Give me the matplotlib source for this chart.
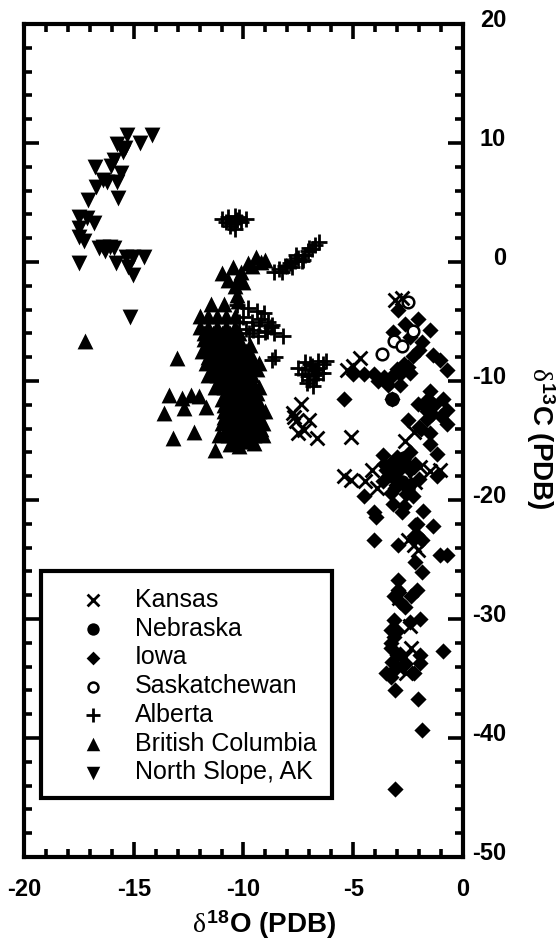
"""
d18O vs d13C cross plot, values read off the scanned figure
"""
import matplotlib
matplotlib.use("Agg")
import matplotlib.pyplot as plt
from matplotlib.patches import Rectangle
from matplotlib.transforms import ScaledTranslation

plt.rcParams["font.family"] = ["Liberation Sans", "DejaVu Sans"]
plt.rcParams["mathtext.fontset"] = "custom"
plt.rcParams["mathtext.rm"] = "Liberation Sans:bold"
plt.rcParams["mathtext.it"] = "Liberation Serif"
plt.rcParams["mathtext.bf"] = "Liberation Sans:bold"

# ---- data (x = d18O, y = d13C) ----
kansas_x = [-2.8, -3.1, -4.7, -5.0, -5.3, -7.4, -7.75, -7.0, -7.6, -7.25, -6.65, -7.5, -7.7,
            -5.1, -2.65, -2.25, -5.4, -5.1, -4.15, -3.9, -4.45, -1.5, -1.05, -1.95,
            -2.25, -2.5, -2.05, -2.35, -2.65, -2.9, -2.4, -3.0, -2.6, -2.2]
kansas_y = [-3.05, -3.2, -8.1, -8.7, -9.1, -11.9, -12.7, -13.3, -13.4, -14.1, -14.8, -14.4, -13.0,
            -14.7, -15.0, -14.3, -18.0, -18.3, -17.5, -19.0, -18.4, -17.6, -17.5, -17.2,
            -23.8, -23.4, -24.2, -32.4, -33.2, -28.2, -30.6, -34.0, -34.5, -18.5]

nebraska_x = [-3.2, -2.8, -3.0, -2.5, -3.25, -2.7, -3.4]
nebraska_y = [-18.0, -18.5, -17.0, -19.0, -11.5, -16.5, -17.3]

iowa_x = [-5.4, -2.05, -2.65, -2.95, -3.2, -1.5, -2.4, -2.0, -1.35, -1.05, -0.75, -1.85, -2.3,
          -2.85, -3.25, -3.6, -4.05, -4.5, -5.0, -3.3, -2.85, -3.85, -3.0, -2.5,
          -1.5, -0.9, -2.05, -1.65, -0.75, -2.5, -1.65, -0.75, -1.5, -1.5, -1.2, -1.9, -1.4,
          -3.65, -3.0, -2.4, -3.5, -2.9, -2.4, -3.65, -3.05, -2.4, -3.2, -2.6, -2.3, -1.8, -1.2,
          -4.5, -3.95, -4.05, -2.1, -1.35, -3.3, -2.7, -2.0, -2.8,
          -4.05, -2.95, -2.2, -1.85, -1.05, -0.75, -2.2, -2.1, -1.85, -2.25,
          -2.95, -2.95, -3.15, -2.1, -2.35, -2.85, -2.65,
          -1.95, -2.4, -3.15, -3.3, -3.15, -3.3, -3.0, -0.9, -1.95, -1.95, -2.25, -3.5, -3.3,
          -3.1, -2.05, -1.85, -3.1, -3.0, -2.65, -3.25, -3.05, -2.85,
          -2.4, -2.7, -3.4, -1.7, -1.3, -1.0, -2.0, -1.6, -3.3, -3.6, -2.6, -3.1, -2.2, -3.3]
iowa_y = [-11.55, -4.75, -5.2, -4.0, -5.9, -5.7, -6.3, -7.4, -7.8, -8.2, -9.1, -6.7, -7.9,
          -10.35, -11.5, -9.7, -9.4, -9.4, -9.4, -9.7, -9.4, -10.0, -9.0, -8.8,
          -10.8, -11.5, -11.9, -12.5, -12.45, -13.3, -13.2, -13.6, -14.4, -15.3, -16.1, -14.0, -12.8,
          -16.25, -16.4, -16.0, -17.5, -17.5, -17.5, -18.4, -18.7, -18.7, -20.3, -19.5, -19.7, -20.9, -18.0,
          -19.7, -21.4, -21.0, -22.0, -22.2, -19.4, -20.5, -18.2, -21.0,
          -23.4, -23.8, -25.2, -26.05, -24.65, -24.65, -22.1, -22.9, -23.4, -23.0,
          -26.75, -27.6, -28.1, -27.6, -28.1, -28.6, -29.0,
          -30.0, -30.25, -30.1, -30.95, -31.5, -32.4, -33.0, -32.7, -33.0, -33.7, -34.5, -34.5, -34.9,
          -36.0, -36.7, -39.3, -44.3, -31.0, -33.8, -33.6, -34.1, -32.9,
          -9.3, -8.6, -10.3, -12.2, -12.0, -12.9, -13.9, -11.5, -16.9, -17.0, -17.0, -19.0, -17.0, -32.0]

sask_x = [-2.5, -2.3, -3.15, -2.8, -3.7]
sask_y = [-3.4, -5.8, -6.65, -7.05, -7.7]

alberta_x = [-11.0, -10.8, -10.7, -10.55, -10.4, -10.3, -10.2, -10.1, -9.9, -10.6, -10.4, -10.45,
             -8.6, -8.4, -8.25, -8.1, -7.9, -7.8, -7.65, -7.5, -7.35, -7.2, -7.05, -6.9, -6.75, -6.55,
             -8.0, -7.6, -7.3, -7.0,
             -10.3, -10.0, -9.8, -9.6, -9.4, -9.2, -9.05, -8.9, -8.75, -9.9, -9.55, -9.3, -9.0, -8.7,
             -10.2, -9.75, -9.35, -8.95, -8.6, -8.2, -8.55, -8.7,
             -7.5, -7.35, -7.2, -7.05, -6.9, -6.75, -6.6, -6.4, -6.25, -7.2, -7.0, -6.8, -6.6, -6.4,
             -7.1, -6.85, -6.95, -6.7, -6.6]
alberta_y = [3.65, 3.4, 3.75, 3.3, 3.85, 3.5, 3.75, 3.4, 3.6, 3.0, 2.8, 3.3,
             -0.8, -0.55, -0.8, -0.3, -0.05, -0.4, 0.1, 0.35, 0.05, 0.6, 0.95, 1.1, 1.45, 1.7,
             -0.3, 0.55, 0.2, 1.2,
             -3.6, -4.6, -3.9, -5.0, -4.1, -4.8, -4.3, -5.0, -5.5, -5.6, -5.7, -5.3, -5.9, -5.3,
             -5.0, -6.0, -6.2, -5.8, -6.0, -6.2, -8.0, -8.2,
             -8.9, -9.4, -8.4, -9.6, -8.7, -9.1, -8.3, -8.6, -8.3, -9.0, -9.9, -9.5, -9.3, -9.3,
             -10.2, -10.4, -8.6, -9.8, -8.9]

bc_x = [-17.2, -13.05, -13.4, -13.6, -12.8, -12.4, -12.05, -12.7, -13.2, -12.25, -11.3, -11.7,
        -11.0, -10.5, -9.8, -9.45, -9.0, -10.2, -10.7, -10.4, -10.3, -10.0, -10.25, -9.6, -9.2, -10.1,
        -11.5, -10.9, -12.0, -11.6, -11.2, -10.8, -10.4, -12.0, -11.6, -11.2, -10.8, -10.4,
        -11.8, -11.4, -11.0, -10.6, -10.2, -11.9, -11.5, -11.1, -10.7, -10.3, -9.9,
        -11.7, -11.3, -10.9, -10.5, -10.1, -9.7, -9.3,
        -11.6, -11.2, -10.8, -10.4, -10.0, -9.6, -11.3, -10.9, -10.5, -10.1, -9.7, -9.3,
        -11.0, -10.6, -10.2, -9.8, -9.4, -10.9, -10.5, -10.1, -9.7, -9.3, -9.0,
        -11.0, -10.6, -10.2, -9.8, -9.4, -9.1, -11.1, -10.7, -10.3, -9.9, -9.5, -9.1,
        -10.6, -10.2, -9.5,
        -11.8, -11.4, -11.0, -10.6, -10.2, -11.7, -11.3, -10.9, -10.5, -10.1, -9.7,
        -11.6, -11.2, -10.8, -10.4, -10.0, -9.6, -11.4, -11.0, -10.6, -10.2, -9.8, -9.4,
        -11.1, -10.8, -10.4, -10.0, -9.6, -10.8, -10.4, -10.0, -9.6, -9.4,
        -10.9, -10.5, -10.1, -9.7, -9.3, -10.8, -10.4, -10.0, -9.6, -9.2,
        -10.9, -10.5, -10.1, -9.7, -9.3, -10.4, -10.0, -9.8]
bc_y = [-6.6, -8.1, -11.2, -12.7, -11.4, -11.2, -11.3, -12.3, -14.8, -14.3, -15.8, -12.2,
        -0.9, -0.4, -0.1, 0.4, 0.2, -1.3, -1.5, -2.0, -2.8, -1.7, -3.3, -0.3, 0.0, -0.8,
        -3.5, -3.5, -4.5, -4.5, -4.5, -4.5, -4.5, -5.5, -5.5, -5.5, -5.5, -5.5,
        -6.5, -6.5, -6.5, -6.5, -6.5, -7.5, -7.5, -7.5, -7.5, -7.5, -7.5,
        -8.5, -8.5, -8.5, -8.5, -8.5, -8.5, -8.5,
        -9.5, -9.5, -9.5, -9.5, -9.5, -9.5, -10.5, -10.5, -10.5, -10.5, -10.5, -10.5,
        -11.5, -11.5, -11.5, -11.5, -11.5, -12.5, -12.5, -12.5, -12.5, -12.5, -12.5,
        -13.5, -13.5, -13.5, -13.5, -13.5, -13.5, -14.5, -14.5, -14.5, -14.5, -14.5, -14.5,
        -15.3, -15.5, -15.2,
        -6.0, -6.0, -6.0, -6.0, -6.0, -7.0, -7.0, -7.0, -7.0, -7.0, -7.0,
        -8.0, -8.0, -8.0, -8.0, -8.0, -8.0, -9.0, -9.0, -9.0, -9.0, -9.0, -9.0,
        -10.0, -10.0, -10.0, -10.0, -10.0, -11.0, -11.0, -11.0, -11.0, -11.0,
        -12.0, -12.0, -12.0, -12.0, -12.0, -14.0, -14.0, -14.0, -14.0, -14.0,
        -13.0, -13.0, -13.0, -13.0, -13.0, -15.0, -15.0, -15.0]

slope_x = [-15.3, -14.15, -14.7, -15.75, -15.4, -15.5, -15.9, -16.75, -16.05, -15.6, -16.4, -16.2,
           -15.75, -16.7, -17.1, -15.7, -17.5, -17.15, -16.8, -17.5, -17.5, -17.25,
           -16.6, -16.4, -16.1, -15.9, -16.3, -17.5, -15.8, -15.35, -15.05, -14.55, -15.25, -15.05, -15.15]
slope_y = [10.7, 10.7, 10.0, 9.9, 9.6, 9.25, 8.6, 8.0, 8.1, 7.5, 6.9, 6.7,
           6.7, 6.3, 5.2, 5.4, 3.8, 3.7, 3.3, 2.85, 2.1, 1.8,
           1.2, 1.3, 1.3, 1.2, 0.9, -0.1, -0.1, 0.4, 0.4, 0.4, -0.4, -1.1, -4.6]

x_ticks = [-20, -15, -10, -5, 0]
x_labels = ["-20", "-15", "-10", "-5", "0"]
y_ticks = [20, 10, 0, -10, -20, -30, -40, -50]
y_labels = ["20", "10", "0", "-10", "-20", "-30", "-40", "-50"]

# ---- figure ----
W, H = 556, 940
fig = plt.figure(figsize=(W / 100, H / 100), dpi=100)
ax = fig.add_axes([24 / W, 1 - 857 / H, (463 - 24) / W, (857 - 24) / H])

ax.scatter(bc_x, bc_y, marker="^", s=130, color="k", linewidths=0, label="British Columbia")
ax.scatter(slope_x, slope_y, marker="v", s=130, color="k", linewidths=0, label="North Slope, AK")
ax.scatter(iowa_x, iowa_y, marker="D", s=68, color="k", linewidths=0, label="Iowa")
ax.scatter(nebraska_x, nebraska_y, marker="o", s=110, color="k", linewidths=0, label="Nebraska")
ax.scatter(sask_x, sask_y, marker="o", s=70, facecolor="w", edgecolor="k", linewidths=1.8, label="Saskatchewan")
ax.scatter(kansas_x, kansas_y, marker="x", s=100, color="k", linewidths=2, label="Kansas")
ax.scatter(alberta_x, alberta_y, marker="+", s=130, color="k", linewidths=2, label="Alberta")

ax.set_xlim(-20, 0)
ax.set_ylim(-50, 20)

ax.set_xticks(x_ticks)
ax.set_xticklabels(x_labels)
ax.set_xticks(range(-20, 1), minor=True)
ax.set_yticks(y_ticks)
ax.set_yticklabels(y_labels)
ax.set_yticks(range(-50, 21, 2), minor=True)

for s in ax.spines.values():
    s.set_linewidth(3)
ax.tick_params(which="both", direction="in", top=True, bottom=True, left=True, right=True,
               labelleft=False, labelright=True, width=2.6)
ax.tick_params(which="major", length=11)
ax.tick_params(which="minor", length=6)
ax.tick_params(axis="x", which="major", pad=15, labelsize=17)
ax.tick_params(axis="y", which="major", pad=31, labelsize=17)

for lab in ax.get_xticklabels():
    lab.set_fontweight("bold")

# labels on the right sit a bit above their ticks in the scan
shift = ScaledTranslation(0, 6 / 100, fig.dpi_scale_trans)
for tick in ax.yaxis.get_major_ticks():
    tick.label2.set_fontweight("bold")
    tick.label2.set_horizontalalignment("right")
    tick.label2.set_transform(tick.label2.get_transform() + shift)

fig.text(264 / W, 1 - 925 / H, r"$\delta^{18}$O (PDB)", fontsize=20, fontweight="bold",
         ha="center", va="center")
fig.text(540 / W, 1 - 438 / H, r"$\delta^{13}$C (PDB)", fontsize=20, fontweight="bold",
         ha="center", va="center", rotation=270)

# legend box, drawn separately so its padding can be set on each side
box = Rectangle((41 / W, 1 - 798 / H), (332 - 41) / W, (798 - 571) / H, transform=fig.transFigure,
                facecolor="w", edgecolor="k", linewidth=3, zorder=4.5)
ax.add_patch(box)

handles, labels = ax.get_legend_handles_labels()
order = ["Kansas", "Nebraska", "Iowa", "Saskatchewan", "Alberta", "British Columbia", "North Slope, AK"]
by_name = dict(zip(labels, handles))
leg = ax.legend([by_name[n] for n in order], order, loc="upper left",
                bbox_to_anchor=(68 / W, 1 - 588 / H), bbox_transform=fig.transFigure,
                frameon=False, fontsize=18, borderpad=0, borderaxespad=0, markerscale=0.85,
                scatterpoints=1, handlelength=2, handletextpad=0.68, labelspacing=0.19)

fig.savefig("out.png", dpi=100)
